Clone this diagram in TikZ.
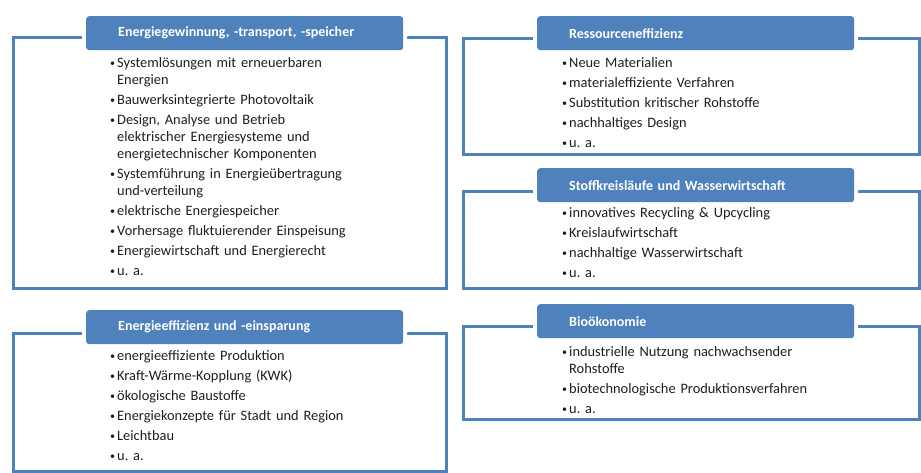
\documentclass[tikz,border=0pt]{standalone}
\usepackage{fontspec}
\setmainfont{Carlito}
\usepackage{tikz}
\definecolor{rahmenblau}{HTML}{4F81BD}
\definecolor{textgrau}{HTML}{1E1E1E}
\newcommand{\punkt}[1]{\par\hangindent=7pt\hangafter=1\noindent\makebox[7pt][l]{\raisebox{0.8pt}{\fontsize{10}{10}\selectfont\textbullet}}#1\par}

\begin{document}
\begin{tikzpicture}[x=1pt,y=-1pt]
        \tikzstyle{rahmen} = [rectangle, draw=rahmenblau, line width=3pt, anchor=north west, inner sep=0pt]
        \tikzstyle{reiter} = [rectangle, fill=rahmenblau, rounded corners=3pt, preaction={draw=white, line width=8pt}, anchor=north west, minimum height=34pt, text width=253pt, inner xsep=32pt, inner ysep=0pt, align=left, text=white, font=\bfseries\fontsize{14}{16}\selectfont]
        \tikzstyle{liste} = [anchor=north west, text width=330pt, inner sep=0pt, align=left, text=textgrau, font=\fontsize{14.4}{17}\selectfont\setlength{\parskip}{3pt}]

        \useasboundingbox (0,0) rectangle (921,473);

        \node (gewinnung) [rahmen, minimum width=433pt, minimum height=251pt] at (12,36) {};
        \node (gewinnungtab) [reiter] at (86,16) {Energiegewinnung, -transport, -speicher};
        \node (gewinnungliste) [liste] at (110,47) {%
            \punkt{Systemlösungen mit erneuerbaren\newline Energien}
            \punkt{Bauwerksintegrierte Photovoltaik}
            \punkt{Design, Analyse und Betrieb\newline elektrischer Energiesysteme und\newline energietechnischer Komponenten}
            \punkt{Systemführung in Energieübertragung\newline und-verteilung}
            \punkt{elektrische Energiespeicher}
            \punkt{Vorhersage fluktuierender Einspeisung}
            \punkt{Energiewirtschaft und Energierecht}
            \punkt{u.\ a.}};

        \node (effizienz) [rahmen, minimum width=433pt, minimum height=138pt] at (12,332) {};
        \node (effizienztab) [reiter] at (86,310) {Energieeffizienz und -einsparung};
        \node (effizienzliste) [liste] at (110,340) {%
            \punkt{energieeffiziente Produktion}
            \punkt{Kraft-Wärme-Kopplung (KWK)}
            \punkt{ökologische Baustoffe}
            \punkt{Energiekonzepte für Stadt und Region}
            \punkt{Leichtbau}
            \punkt{u.\ a.}};

        \node (ressourcen) [rahmen, minimum width=456pt, minimum height=116pt] at (462,37) {};
        \node (ressourcentab) [reiter] at (537,16) {Ressourceneffizienz};
        \node (ressourcenliste) [liste] at (562,47) {%
            \punkt{Neue Materialien}
            \punkt{materialeffiziente Verfahren}
            \punkt{Substitution kritischer Rohstoffe}
            \punkt{nachhaltiges Design}
            \punkt{u.\ a.}};

        \node (stoffkreis) [rahmen, minimum width=456pt, minimum height=97pt] at (462,190) {};
        \node (stoffkreistab) [reiter] at (537,168) {Stoffkreisläufe und Wasserwirtschaft};
        \node (stoffkreisliste) [liste] at (562,197) {%
            \punkt{innovatives Recycling \& Upcycling}
            \punkt{Kreislaufwirtschaft}
            \punkt{nachhaltige Wasserwirtschaft}
            \punkt{u.\ a.}};

        \node (biooekonomie) [rahmen, minimum width=456pt, minimum height=93pt] at (462,325) {};
        \node (biooekonomietab) [reiter] at (537,304) {Bioökonomie};
        \node (biooekonomieliste) [liste] at (562,336) {%
            \punkt{industrielle Nutzung nachwachsender\newline Rohstoffe}
            \punkt{biotechnologische Produktionsverfahren}
            \punkt{u.\ a.}};
    \end{tikzpicture}
\end{document}
